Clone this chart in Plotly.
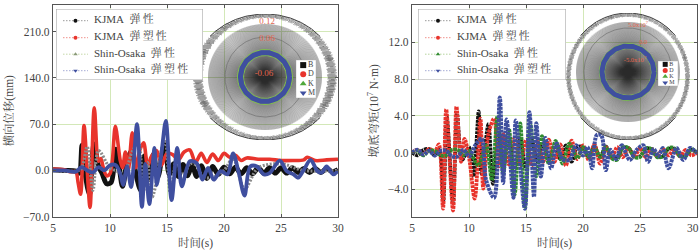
import numpy as np
import plotly.graph_objects as go

W, H = 700, 250
SERIF = "Liberation Serif, Noto Serif CJK SC, Noto Sans CJK SC, serif"
GRID = "#d3e8b8"
AXC = "#555555"
TXT = "#444444"
RED = "#e2664e"

names = ["KJMA\u00a0\u00a0弹\u2009性", "KJMA\u00a0\u00a0弹\u2009塑\u2009性", "Shin-Osaka\u00a0\u00a0弹\u2009性", "Shin-Osaka\u00a0\u00a0弹\u2009塑\u2009性"]
inset_names = ["B", "D", "K", "M"]
left_ring_labels = ["0.12", "0.06", "-0.06"]
right_ring_labels = ["5.0x10<sup>7</sup>", "0.0", "-5.0x10<sup>7</sup>"]
left_ticks = [-70, 0, 70, 140, 210]
right_ticks = [-4, 0, 4, 8, 12, 16]
x_ticks = [5, 10, 15, 20, 25, 30]
x_tick_text = ["5", "10", "15", "20", "25", "30"]

# ---------- left panel: lateral displacement (mm)
lt_black = [5, 6, 7, 7.3, 7.55, 7.85, 8.2, 8.6, 9, 9.3, 9.7, 10.1, 10.5, 10.8, 11.1, 11.5, 11.9, 12.3, 12.7, 13, 13.4, 13.8, 14.2, 14.8, 15.2, 15.6, 16, 16.4, 16.8, 17.2, 17.6, 18, 18.5, 19, 19.5, 20, 20.5, 21, 21.5, 22, 22.5, 23, 23.5, 24, 24.5, 25, 25.5, 26, 26.5, 27, 27.5, 28, 28.5, 29, 29.5, 30]
ly_black = [1, 0, -1, -4, 38, -8, -36, 40, 6, -4, -20, -18, 32, 6, -24, 12, 30, -8, -30, 22, -14, 24, -10, 42, -6, 10, -9, 9, -8, 8, -9, 7, -12, 6, -6, 5, -5, 5, -5, 4, -5, 4, -4, 4, -4, 4, -4, 4, -3, 3, -3, 3, -3, 3, -2, 1]

lt_red = [5, 6, 6.5, 7, 7.2, 7.42, 7.72, 8, 8.25, 8.62, 9, 9.2, 9.4, 9.7, 10, 10.2, 10.47, 10.9, 11.1, 11.35, 11.6, 11.95, 12.25, 12.6, 12.95, 13.3, 13.6, 14.1, 14.5, 15, 15.5, 16, 16.5, 17, 17.5, 18, 18.5, 19, 19.5, 20, 20.5, 21, 21.5, 22, 23, 24, 25, 26, 27, 27.3, 28, 29, 30]
ly_red = [2, 1, -2, -2, -18, -36, 68, 0, -56, 95, 14, 18, 5, -8, -5, 14, 67, 15, 4, 28, 0, 57, 4, 30, 42, 6, 20, 30, 8, 26, 24, 16, 28, 31, 12, 26, 12, 25, 15, 26, 20, 23, 15, 19, 17, 17, 15, 15, 16, 20, 15, 16, 17]

lt_gray = [5, 7, 7.5, 8, 8.5, 9, 10, 10.9, 11.1, 11.5, 12, 12.5, 12.9, 13.3, 13.7, 14.1, 14.5, 14.85, 15.3, 15.9, 16.3, 17, 17.6, 18.1, 19.1, 20, 20.8, 21.8, 23, 25, 27, 30]
ly_gray = [0, -1, 3, 36, -30, 30, 4, -4, -18, 4, 30, 42, -35, 12, -40, -14, 30, 46, -34, 26, -18, 10, 8, -10, -10, 0, 18, -28, 4, 10, 0, 0]

lt_blue = [5, 6, 7, 7.5, 8, 8.5, 9, 9.5, 10, 10.5, 10.9, 11.15, 11.5, 11.85, 12.37, 12.8, 13.1, 13.45, 13.9, 14.1, 14.5, 14.9, 15.4, 15.9, 16.3, 17, 17.6, 18.1, 18.6, 19.1, 19.7, 20.3, 20.8, 21.3, 21.8, 22.3, 22.9, 23.5, 24, 24.9, 25.5, 26.1, 26.5, 27, 27.6, 28.2, 28.6, 29, 29.6, 30]
ly_blue = [0, 0, -2, 5, 0, -3, 5, 0, 8, 8, -5, -22, 6, -25, 70, -55, 10, -51, 34, -22, 24, 75, -45, 34, -24, 14, 11, -14, 4, -14, -1, -6, 26, -4, -38, 6, 6, -6, -4, 15, -1, -6, -11, 1, 16, -1, -3, 6, -6, 0]

# ---------- right panel: pier-base moment (10^7 N.m)
rt_black = [5, 5.5, 6, 6.5, 7, 7.4, 7.75, 8.05, 8.6, 8.95, 9.4, 10, 10.4, 10.85, 11.1, 11.7, 12.1, 12.6, 13, 13.5, 14, 14.5, 15, 15.5, 16, 16.5, 17, 17.5, 18, 18.5, 19, 19.5, 20, 20.5, 21, 21.5, 22, 22.5, 23, 23.5, 24, 24.5, 25, 25.5, 26, 26.5, 27, 27.5, 28, 28.5, 29, 29.5, 30]
ry_black = [0, -0.3, 0.3, 0.4, -0.3, 0.3, -5.2, 3.9, -5.4, 4.2, -0.8, 0.6, -2.6, 4.5, -2.3, 3.1, -3.4, 2.2, -1.6, 1.6, -1.8, 1.5, -1.8, 1.4, -1, 1, -0.8, 0.7, -0.7, 0.8, -1, 0.6, 0.6, -0.5, 0.7, -0.5, 0.7, -0.4, -0.5, 0.5, 0.5, -0.4, -0.4, 0.4, 0.4, -0.4, -0.4, 0.4, 0.4, -0.3, -0.3, 0.3, 0]

rt_red = [5, 5.5, 6, 6.5, 7, 7.35, 7.72, 8, 8.6, 8.9, 9.3, 9.6, 10, 10.5, 11, 11.25, 11.7, 12.2, 12.6, 13, 13.5, 14, 14.5, 15, 15.5, 16, 16.5, 17, 17.5, 18, 18.5, 19, 19.5, 20, 20.5, 21, 21.5, 22, 22.5, 23, 23.5, 24, 24.5, 25, 25.5, 26, 26.5, 27, 27.5, 28, 28.5, 29, 29.5, 30]
ry_red = [0, 0.3, -0.2, 0.4, 0.1, 0.9, -6.1, 4.7, -6.3, 5, -1, 1.5, -0.5, -5, 3.7, -3.9, 2, 3.7, -1.5, 2, -1.3, 1.6, -1.4, 1.4, -1.4, 1.2, -1, 1.4, -1, 0.9, -1.4, 1.3, -0.7, 0.8, -0.8, 0.9, -1.2, 0.6, -0.6, 0.6, -0.5, 0.5, -0.5, 0.5, -0.5, 0.4, -0.4, 0.4, -0.3, 0.4, -0.4, 0.3, -0.3, 0]

rt_green = [5, 5.5, 6, 6.5, 7, 7.5, 8, 8.5, 9, 9.5, 10, 10.8, 11.5, 12, 12.5, 13, 13.5, 14, 14.5, 14.9, 15.4, 15.9, 16.4, 17, 17.6, 18.2, 18.8, 19.5, 20, 20.5, 21, 21.5, 22, 22.5, 23, 23.5, 24, 24.5, 25, 25.5, 26, 26.5, 27, 27.5, 28, 28.5, 29, 29.5, 30]
ry_green = [0, 0.2, -0.3, 0.2, 0.2, -0.3, -0.3, 0.3, 0.3, -0.3, 0.2, -1.4, 0.8, -3, 4, -2.2, 2.6, -4.6, 3.2, -5.9, 3, -2.6, 1.8, -1.2, 1.3, -1.2, 1, -0.6, 0.6, -0.5, 0.6, -0.5, 0.6, -0.6, -0.8, 0.6, 0.5, -0.5, -0.5, 0.5, 0.4, -0.5, -0.4, 0.5, 0.5, -0.4, -0.4, 0.4, 0]

rt_blue = [5, 5.5, 6, 6.5, 7, 7.5, 8, 8.5, 9, 9.5, 10, 10.6, 11.1, 11.5, 12.2, 12.7, 13, 13.3, 13.9, 14.1, 14.9, 15.3, 15.7, 15.9, 16.3, 16.7, 17.2, 17.7, 18.2, 18.8, 19.4, 20, 20.4, 20.8, 21.2, 21.6, 22, 22.4, 22.9, 23.4, 24.1, 24.7, 25.3, 25.7, 26.2, 26.6, 27, 27.5, 28.2, 28.8, 29.4, 30]
ry_blue = [0, 0.3, -0.2, 0.2, -0.3, 0.2, 0.2, -0.4, -0.4, 0.3, -0.4, 0.9, 1.5, -3, -4.9, 6, -3.3, 3.6, -4.9, 3.5, -6.1, 4.4, -4.8, 3.2, -2.6, 1.6, -1.7, 1, -0.7, -0.8, 0.8, -0.3, 0.6, -1.7, 1.9, 1.9, -1.9, 0.3, -0.7, 0.8, -0.8, 0.3, 0.8, -1, 0.4, -0.4, 0.5, -1.7, 0.5, -0.8, 0.5, -0.1]

# ---------- inset ring decoration
ring_pattern = [0.1, 0.9, 0.35, 1.0, 0.05, 0.7, 0.25, 0.95, 0.0, 0.6, 0.45, 0.85, 0.15, 0.55, 0.8, 0.2, 1.0, 0.4, 0.75, 0.05, 0.65, 0.3, 0.9]


def px_dom(a, b, size):
    return [a / size, b / size]


def py_dom(top, bottom):
    return [1 - bottom / H, 1 - top / H]


fig = go.Figure()

common_x = dict(range=[5, 30], tickvals=x_ticks, ticks="inside", ticklen=3, tickcolor=AXC, showgrid=True, automargin=False,
                gridcolor=GRID, gridwidth=1, showline=True, linecolor=AXC, linewidth=1.3, mirror="ticks",
                zeroline=False, tickfont=dict(family=SERIF, size=11.5, color=TXT),
                title=dict(text="时间(s)", standoff=6, font=dict(family=SERIF, size=11.5, color=TXT)))
common_y = dict(ticks="inside", ticklen=3, tickcolor=AXC, showgrid=True, gridcolor=GRID, gridwidth=1, automargin=False,
                showline=True, linecolor=AXC, linewidth=1.3, mirror="ticks", zeroline=False,
                tickfont=dict(family=SERIF, size=11.5, color=TXT))
hidden = dict(visible=False, fixedrange=True, automargin=False)

layout = dict(
    width=W, height=H, autosize=False, margin=dict(l=0, r=0, t=0, b=0, autoexpand=False),
    paper_bgcolor="white", plot_bgcolor="rgba(0,0,0,0)",
    xaxis=dict(common_x, domain=px_dom(53, 338, W), anchor="y"),
    yaxis=dict(common_y, domain=py_dom(5, 216.7), anchor="x", range=[-70, 250.5], tickvals=left_ticks, tickformat=".1f",
               title=dict(text="横向位移(mm)", standoff=6, font=dict(family=SERIF, size=11.5, color=TXT))),
    xaxis2=dict(common_x, domain=px_dom(412, 697, W), anchor="y2", ticktext=x_tick_text[:-1] + [""]),
    yaxis2=dict(common_y, domain=py_dom(5, 216.7), anchor="x2", range=[-6.97, 16.06], tickvals=right_ticks, tickformat=".1f",
                title=dict(text="墩底弯矩(10<sup>7</sup> N·m)", standoff=6, font=dict(family=SERIF, size=11.5, color=TXT))),
    xaxis3=dict(hidden, domain=px_dom(193, 337, W), range=[-72, 72], anchor="y3"),
    yaxis3=dict(hidden, domain=py_dom(14, 140), range=[-63, 63], anchor="x3"),
    xaxis4=dict(hidden, domain=px_dom(566, 690, W), range=[-62, 62], anchor="y4"),
    yaxis4=dict(hidden, domain=py_dom(13, 140), range=[-63.5, 63.5], anchor="x4"),
    xaxis5=dict(hidden, domain=px_dom(296, 316, W), range=[0, 1], anchor="y5"),
    yaxis5=dict(hidden, domain=py_dom(60, 98), range=[-0.55, 3.55], anchor="x5"),
    xaxis6=dict(hidden, domain=px_dom(658, 678, W), range=[0, 1], anchor="y6"),
    yaxis6=dict(hidden, domain=py_dom(61, 86), range=[-0.55, 3.55], anchor="x6"),
    xaxis7=dict(hidden, domain=px_dom(56, 203, W), range=[0, 147], anchor="y7"),
    yaxis7=dict(hidden, domain=py_dom(9, 80), range=[71, 0], anchor="x7"),
    xaxis8=dict(hidden, domain=px_dom(418, 566, W), range=[0, 148], anchor="y8"),
    yaxis8=dict(hidden, domain=py_dom(9, 80), range=[71, 0], anchor="x8"),
    showlegend=False,
    annotations=[dict(text=x_tick_text[-1], x=692.5 / W, y=1 - 227.5 / H, xref="paper", yref="paper", showarrow=False,
                      xanchor="center", yanchor="middle", font=dict(family=SERIF, size=11.5, color=TXT))],
)

# main curves
L_STYLE = [(lt_black, ly_black, "#111111", 5.0, "solid"), (lt_red, ly_red, "#e8342c", 3.6, "solid"),
           (lt_gray, ly_gray, "#8a8a8a", 3.2, "2px,1.5px"), (lt_blue, ly_blue, "#3f4f9f", 3.8, "solid")]
for n, (t, y, c, w, d) in zip(names, L_STYLE):
    fig.add_trace(go.Scatter(x=t, y=y, mode="lines", xaxis="x", yaxis="y", showlegend=False, hoverinfo="skip", name=n,
                             line=dict(color=c, width=w, dash=d, shape="spline", smoothing=0.9)))
R_STYLE = [(rt_black, ry_black, "#111111", 3.6), (rt_red, ry_red, "#e8342c", 3.8),
           (rt_green, ry_green, "#2f8a2f", 3.6), (rt_blue, ry_blue, "#3f4f9f", 4.0)]
for n, (t, y, c, w) in zip(names, R_STYLE):
    fig.add_trace(go.Scatter(x=t, y=y, mode="lines", xaxis="x2", yaxis="y2", showlegend=False, hoverinfo="skip", name=n,
                             line=dict(color=c, width=w, dash="3px,0.8px", shape="spline", smoothing=0.9)))


def draw_inset(xa, ya, dy, disk_rx, disk_ry, ring_rx, ring_ry, circle_r, blue_r, green_r, labels, lab_x, lab_y, lab_size):
    th_s = np.deg2rad(np.arange(0, 360, 0.6))
    sx, sy = [], []
    for a in th_s:
        sx += [0, disk_rx * np.cos(a), None]
        sy += [dy, dy + disk_ry * np.sin(a), None]
    fig.add_trace(go.Scatter(x=sx, y=sy, mode="lines", xaxis=xa, yaxis=ya, showlegend=False, hoverinfo="skip",
                             line=dict(color="#2a2a2a", width=0.24)))
    n = 1500
    th = np.linspace(0, 2 * np.pi, n)
    pat = np.array([ring_pattern[i % len(ring_pattern)] for i in range(n)])
    rx = ring_rx[0] + (ring_rx[1] - ring_rx[0]) * pat
    ry = ring_ry[0] + (ring_ry[1] - ring_ry[0]) * pat
    fig.add_trace(go.Scatter(x=rx * np.cos(th), y=ry * np.sin(th), mode="lines", xaxis=xa, yaxis=ya, showlegend=False,
                             hoverinfo="skip", line=dict(color="#606060", width=0.4)))
    top = th[(th > np.deg2rad(40)) & (th < np.deg2rad(140))]
    bot = th[(th > np.deg2rad(220)) & (th < np.deg2rad(320))]
    for arc in (top, bot):
        fig.add_trace(go.Scatter(x=ring_rx[1] * np.cos(arc), y=ring_ry[1] * np.sin(arc), mode="lines", xaxis=xa, yaxis=ya,
                                 showlegend=False, hoverinfo="skip", line=dict(color="#444444", width=1)))
    full = np.linspace(0, 2 * np.pi, 181)
    for r, c, w in [(circle_r, "#666666", 0.6), (green_r[0], "#7fc24a", 1), (green_r[1], "#7fc24a", 1), (blue_r, "#3f4f9f", 5)]:
        fig.add_trace(go.Scatter(x=r * np.cos(full), y=dy + r * np.sin(full), mode="lines", xaxis=xa, yaxis=ya,
                                 showlegend=False, hoverinfo="skip", line=dict(color=c, width=w)))
    fig.add_trace(go.Scatter(x=lab_x, y=lab_y, mode="text", text=labels, textposition="middle center", xaxis=xa, yaxis=ya,
                             showlegend=False, hoverinfo="skip", textfont=dict(family=SERIF, size=lab_size, color=RED)))


draw_inset("x3", "y3", 0, 57, 53, (62, 72), (59, 63), 40, 24.5, (21.5, 27.5),
           left_ring_labels, [2, 2, -1], [55, 38, 3], 9)
draw_inset("x4", "y4", 4.5, 52, 50, (57, 62), (59.5, 63.5), 44, 26, (23.5, 28.5),
           right_ring_labels, [10, 15, 7], [51.5, 34.5, 16.5], 6.5)


def draw_mini(xa, ya, fs, ms):
    fig.add_trace(go.Scatter(x=[0, 1, 1, 0, 0], y=[-0.55, -0.55, 3.55, 3.55, -0.55], mode="lines", fill="toself",
                             fillcolor="white", xaxis=xa, yaxis=ya, showlegend=False, hoverinfo="skip",
                             line=dict(color="#cccccc", width=0.7)))
    ys = [3, 2, 1, 0]
    for n, y, c, s in zip(inset_names, ys, ["#111111", "#e8342c", "#4fa83a", "#3f4f9f"], ["square", "circle", "triangle-up", "triangle-down"]):
        fig.add_trace(go.Scatter(x=[0.36], y=[y], mode="markers+text", text=[n], textposition="middle right", xaxis=xa, yaxis=ya,
                                 textfont=dict(family=SERIF, size=fs, color=TXT), showlegend=False, hoverinfo="skip",
                                 marker=dict(color=c, size=ms, symbol=s)))


draw_mini("x5", "y5", 8, 6)
draw_mini("x6", "y6", 6, 5)

leg_line = [["#9a9a9a", "#f0908a", "#c6d8a8", "#a5acd6"], ["#9a9a9a", "#f0908a", "#b6d49e", "#a5acd6"]]
leg_mark = [["#111111", "#e8342c", "#8a9a78", "#3f4f9f"], ["#111111", "#e8342c", "#2f8a2f", "#3f4f9f"]]
leg_sym = ["circle", "circle", "triangle-up", "triangle-down"]
leg_rows = [11.7, 28.7, 45.2, 61.7]


def draw_legend(xa, ya, idx, box_w, s0, s1, tx):
    fig.add_trace(go.Scatter(x=[0, box_w, box_w, 0, 0], y=[0, 0, 71, 71, 0], mode="lines", fill="toself", fillcolor="white",
                             xaxis=xa, yaxis=ya, showlegend=False, hoverinfo="skip", line=dict(color="#a8a8a8", width=1.2)))
    for n, r, lc, mc, s in zip(names, leg_rows, leg_line[idx], leg_mark[idx], leg_sym):
        fig.add_trace(go.Scatter(x=[s0, s1], y=[r, r], mode="lines", xaxis=xa, yaxis=ya, showlegend=False, hoverinfo="skip",
                                 line=dict(color=lc, width=1, dash="1.5px,1.5px")))
        fig.add_trace(go.Scatter(x=[(s0 + s1) / 2], y=[r], mode="markers", xaxis=xa, yaxis=ya, showlegend=False, hoverinfo="skip",
                                 marker=dict(color=mc, size=4, symbol=s)))
        fig.add_trace(go.Scatter(x=[tx], y=[r], mode="text", text=[n], textposition="middle right", xaxis=xa, yaxis=ya,
                                 showlegend=False, hoverinfo="skip", textfont=dict(family=SERIF, size=11, color=TXT)))


draw_legend("x7", "y7", 0, 147, 7, 32, 38)
draw_legend("x8", "y8", 1, 148, 7, 33, 39)

fig.update_layout(**layout)
fig.write_html("out.html", config={"displayModeBar": False},
               post_script="document.body.style.margin='0';document.documentElement.style.overflow='hidden';")
